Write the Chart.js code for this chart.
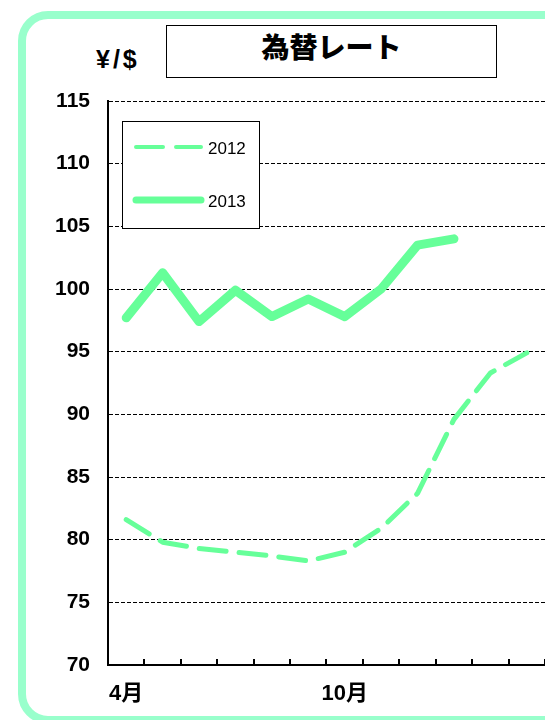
<!DOCTYPE html>
<html lang="ja">
<head>
<meta charset="UTF-8">
<title>為替レート</title>
<script src="https://cdn.jsdelivr.net/npm/chart.js@4.4.1/dist/chart.umd.min.js"></script>
<style>
  html, body { margin: 0; padding: 0; background: #fff; }
  #wrap { position: relative; width: 545px; height: 720px; overflow: hidden; }
  #frame { position: absolute; left: 18px; top: 11px; width: 620px; height: 713px; box-sizing: border-box;
           border: 8px solid #99ffcc; border-radius: 30px; }
  #title { position: absolute; left: 166px; top: 25px; width: 331px; height: 53px; box-sizing: border-box;
           border: 1.5px solid #000; text-align: center; line-height: 49px;
           font: 900 28px "Noto Sans CJK JP", sans-serif; }
  #unit { position: absolute; left: 96px; top: 45px; letter-spacing: 3px;
          font: bold 25px "Liberation Sans", Arial, sans-serif; }
  canvas { position: absolute; left: 0; top: 0; }
</style>
</head>
<body>
<div id="wrap">
  <div id="frame"></div>
  <div id="title">為替レート</div>
  <div id="unit">¥/$</div>
  <canvas id="chart" width="545" height="720"></canvas>
</div>
<script>
// data
const months = ['4月', '5月', '6月', '7月', '8月', '9月', '10月', '11月', '12月', '1月', '2月', '3月'];
const shownMonths = ['4月', '10月'];
const rate2012 = [81.6, 79.8, 79.3, 79.0, 78.7, 78.3, 79.0, 80.9, 83.7, 89.6, 93.3, 94.9];
const rate2013 = [97.7, 101.3, 97.4, 99.9, 97.8, 99.2, 97.8, 100.0, 103.5, 104.0, null, null];
const yMin = 70, yMax = 115, yStep = 5;

const green = '#66ff99';
const numFont = '"Liberation Sans", Arial, "Noto Sans CJK JP", sans-serif';

// small tick marks pointing up into the plot, between months
const innerTicks = {
  id: 'innerTicks',
  afterDraw(chart) {
    const x = chart.scales.x, ctx = chart.ctx;
    const half = (x.getPixelForValue(1) - x.getPixelForValue(0)) / 2;
    ctx.save();
    ctx.strokeStyle = '#000';
    ctx.lineWidth = 2;
    for (let i = 0; i < months.length; i++) {
      const px = Math.round(x.getPixelForValue(i) + half);
      ctx.beginPath();
      ctx.moveTo(px, chart.chartArea.bottom);
      ctx.lineTo(px, chart.chartArea.bottom - 6);
      ctx.stroke();
    }
    ctx.restore();
  }
};

// boxed legend inside the plot
const boxLegend = {
  id: 'boxLegend',
  afterDraw(chart) {
    const ctx = chart.ctx;
    const bx = 122, by = 121, bw = 137, bh = 107;
    ctx.save();
    ctx.fillStyle = '#fff';
    ctx.fillRect(bx, by, bw, bh);
    ctx.strokeStyle = '#000';
    ctx.lineWidth = 1;
    ctx.strokeRect(bx + 0.5, by + 0.5, bw, bh);
    const rows = [147, 200];
    chart.data.datasets.forEach((ds, i) => {
      const y = rows[i];
      ctx.beginPath();
      ctx.strokeStyle = ds.borderColor;
      ctx.lineWidth = i === 0 ? 4 : 7;
      ctx.lineCap = 'round';
      ctx.setLineDash(ds.borderDash || []);
      ctx.moveTo(136, y);
      ctx.lineTo(201, y);
      ctx.stroke();
      ctx.setLineDash([]);
      ctx.fillStyle = '#000';
      ctx.font = '17px "Liberation Sans", Arial, sans-serif';
      ctx.textBaseline = 'middle';
      ctx.fillText(ds.label, 208, y + 2);
    });
    ctx.restore();
  }
};

new Chart(document.getElementById('chart'), {
  type: 'line',
  data: {
    labels: months,
    datasets: [
      {
        label: '2012',
        data: rate2012,
        borderColor: green,
        borderWidth: 5,
        borderDash: [27, 13],
        borderCapStyle: 'round',
        borderJoinStyle: 'round',
        pointRadius: 0,
        tension: 0,
        fill: false
      },
      {
        label: '2013',
        data: rate2013,
        borderColor: green,
        borderWidth: 9,
        borderCapStyle: 'round',
        borderJoinStyle: 'round',
        pointRadius: 0,
        tension: 0,
        spanGaps: false,
        fill: false
      }
    ]
  },
  options: {
    responsive: false,
    animation: false,
    layout: { padding: { top: 101, right: 0, left: 0, bottom: 0 } },
    plugins: { legend: { display: false }, tooltip: { enabled: false }, title: { display: false } },
    scales: {
      x: {
        offset: true,
        afterFit: (s) => { s.height = 55; },
        grid: { display: false, drawTicks: false },
        border: { display: true, color: '#000', width: 2 },
        ticks: {
          autoSkip: false,
          maxRotation: 0,
          padding: 16,
          color: '#000',
          font: { family: numFont, size: 22, weight: 'bold' },
          callback: (v, i) => (shownMonths.includes(months[i]) ? months[i] : '')
        }
      },
      y: {
        min: yMin,
        max: yMax,
        afterFit: (s) => { s.width = 108; },
        grid: { color: '#000', lineWidth: 1, drawTicks: false },
        border: { display: true, color: '#000', width: 2, dash: [4, 2] },
        ticks: {
          stepSize: yStep,
          padding: 18,
          color: '#000',
          font: { family: numFont, size: 21, weight: 'bold' }
        }
      }
    }
  },
  plugins: [innerTicks, boxLegend]
});
</script>
</body>
</html>
